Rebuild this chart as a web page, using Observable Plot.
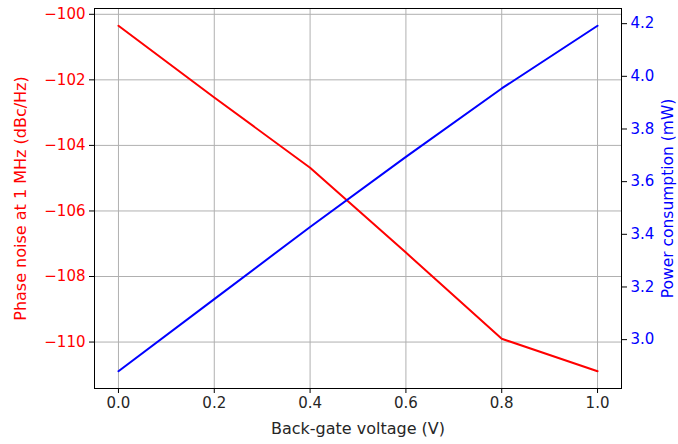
<!DOCTYPE html>
<html><head><meta charset="utf-8">
<script src="https://cdn.jsdelivr.net/npm/d3@7"></script>
<script src="https://cdn.jsdelivr.net/npm/@observablehq/plot@0.6"></script>
<style>body{margin:0;background:#fff}</style>
</head><body><div id="chart"></div>
<script>
const voltage = [0.0, 0.2, 0.4, 0.6, 0.8, 1.0];
const phaseNoise = [-100.35, -102.54, -104.68, -107.27, -109.90, -110.89];
const power = [2.880, 3.154, 3.428, 3.694, 3.954, 4.192];
const xTicks = [0, 0.2, 0.4, 0.6, 0.8, 1.0];
const leftTicks = [-110, -108, -106, -104, -102, -100];
const rightTicks = [3.0, 3.2, 3.4, 3.6, 3.8, 4.0, 4.2];
const xLabel = "Back-gate voltage (V)";
const leftLabel = "Phase noise at 1 MHz (dBc/Hz)";
const rightLabel = "Power consumption (mW)";

const pad = (lo, hi) => { const m = (hi - lo) * 0.05; return [lo - m, hi + m]; };
const xDom = pad(d3.min(voltage), d3.max(voltage));
const yDom = pad(d3.min(phaseNoise), d3.max(phaseNoise));
const pDom = pad(d3.min(power), d3.max(power));
const toLeft = d3.scaleLinear().domain(pDom).range(yDom);

const red = d3.zip(voltage, phaseNoise).map(([x, y]) => ({x, y}));
const blue = d3.zip(voltage, power).map(([x, p]) => ({x, y: toLeft(p)}));
const minus = s => s.replace("-", "\u2212");

const plot = Plot.plot({
  width: 678, height: 444,
  marginLeft: 94, marginRight: 57, marginTop: 8, marginBottom: 56,
  style: {fontFamily: "DejaVu Sans", fontSize: "15px", color: "black", background: "white"},
  x: {domain: xDom},
  y: {domain: yDom},
  marks: [
    Plot.gridX(xTicks, {stroke: "#b0b0b0", strokeOpacity: 1, strokeWidth: 1}),
    Plot.gridY(leftTicks, {stroke: "#b0b0b0", strokeOpacity: 1, strokeWidth: 1}),
    Plot.line(red, {x: "x", y: "y", stroke: "#ff0000", strokeWidth: 2}),
    Plot.line(blue, {x: "x", y: "y", stroke: "#0000ff", strokeWidth: 2}),
    Plot.axisX(xTicks, {anchor: "bottom", tickSize: 5, tickPadding: 4, tickFormat: d => d.toFixed(1),
      label: null, stroke: "black", fill: "#262626", fontSize: 15}),
    Plot.axisY(leftTicks, {anchor: "left", tickSize: 5, tickPadding: 4, tickFormat: d => minus(String(d)),
      label: null, stroke: "black", fill: "#ff0000", fontSize: 15}),
    Plot.axisY(rightTicks.map(t => toLeft(t)), {anchor: "right", tickSize: 5, tickPadding: 4,
      tickFormat: d => toLeft.invert(d).toFixed(1),
      label: null, stroke: "black", fill: "#0000ff", fontSize: 15}),
    Plot.text([xLabel], {text: d => d, frameAnchor: "bottom", textAnchor: "middle", lineAnchor: "middle", dy: 40, fontSize: 16, fill: "#262626"}),
    Plot.text([leftLabel], {text: d => d, frameAnchor: "left", textAnchor: "middle", lineAnchor: "middle", rotate: -90, dx: -74, fontSize: 16, fill: "#ff0000"}),
    Plot.text([rightLabel], {text: d => d, frameAnchor: "right", textAnchor: "middle", lineAnchor: "middle", rotate: -90, dx: 47, fontSize: 15.5, fill: "#0000ff"}),
    Plot.frame({stroke: "black", strokeWidth: 1})
  ]
});
document.getElementById("chart").appendChild(plot);
</script>
</body></html>
